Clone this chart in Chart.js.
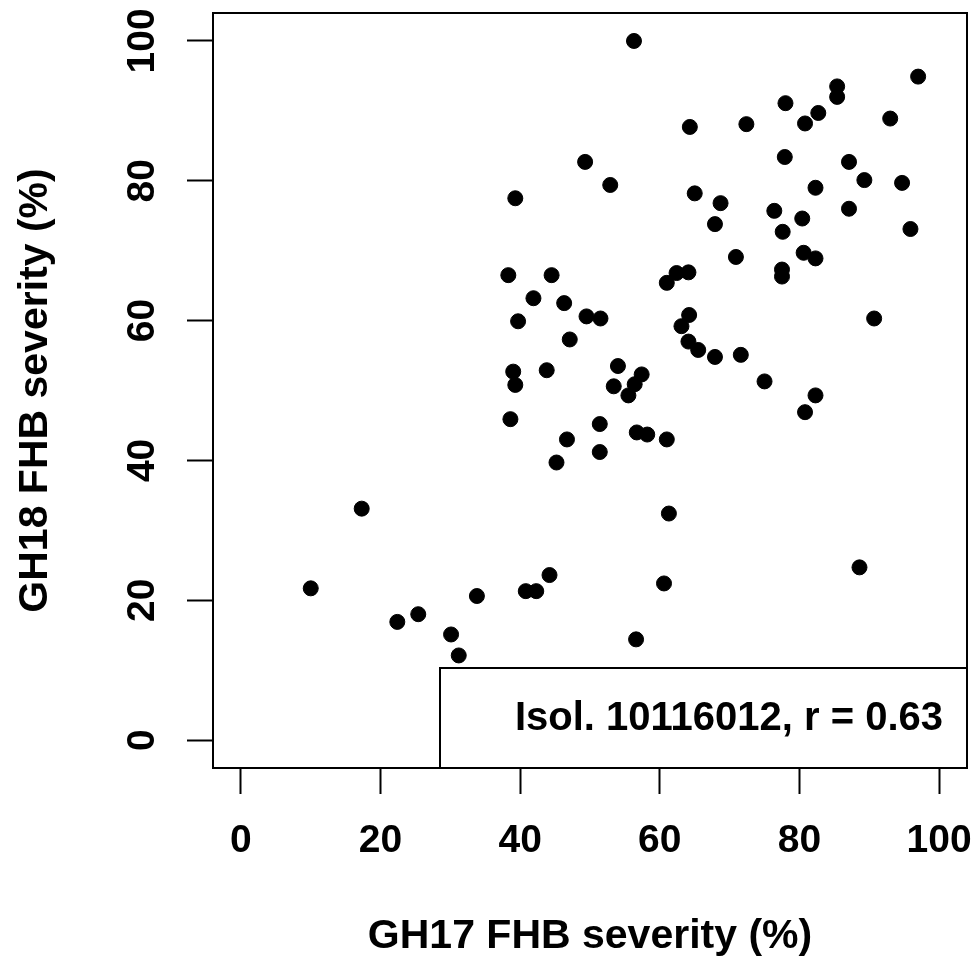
<!DOCTYPE html>
<html>
<head>
<meta charset="utf-8">
<script src="https://cdn.jsdelivr.net/npm/chart.js@4.4.1/dist/chart.umd.min.js"></script>
<style>
  html, body { margin: 0; padding: 0; background: #fff; }
  canvas { display: block; }
</style>
</head>
<body>
<canvas id="c" width="976" height="963" style="width:976px;height:963px"></canvas>
<script>
// GH17 FHB severity (%) per isolate line
const gh17 = [
  49.3, 39.3, 38.3, 44.5, 41.9, 46.3, 49.5, 39.7, 47.1, 39.0,
  43.8, 39.3, 56.3, 97.0, 85.4, 85.4, 78.0, 82.7, 80.8, 64.3,
  72.4, 93.0, 77.9, 52.9, 87.1, 89.3, 94.7, 82.3, 65.0, 68.7,
  76.4, 80.4, 67.9, 77.6, 87.1, 95.9, 70.9, 80.6, 82.3, 77.5,
  77.5, 61.0, 62.4, 64.1, 90.7, 51.5, 64.2, 63.1, 64.1, 65.5,
  67.9, 71.6, 75.0, 82.3, 80.8, 51.4, 51.4, 56.7, 58.2, 61.0,
  61.3, 88.6, 60.6, 56.6, 38.6, 46.7, 45.2, 17.3, 10.0, 22.4,
  25.4, 33.8, 40.8, 42.3, 44.2, 30.1, 31.2, 54.0, 57.4, 53.4,
  55.5, 56.4
];
// GH18 FHB severity (%) for the same lines
const gh18 = [
  82.7, 77.5, 66.5, 66.5, 63.2, 62.5, 60.6, 59.9, 57.3, 52.7,
  52.9, 50.8, 100.0, 94.9, 93.5, 92.0, 91.1, 89.7, 88.2, 87.7,
  88.1, 88.9, 83.4, 79.4, 82.7, 80.1, 79.7, 79.0, 78.2, 76.8,
  75.7, 74.6, 73.8, 72.7, 76.0, 73.1, 69.1, 69.7, 68.9, 67.3,
  66.3, 65.4, 66.8, 66.9, 60.3, 60.3, 60.8, 59.2, 57.0, 55.8,
  54.8, 55.1, 51.3, 49.3, 46.9, 45.2, 41.2, 44.0, 43.7, 43.0,
  32.4, 24.7, 22.4, 14.4, 45.9, 43.0, 39.7, 33.1, 21.7, 16.9,
  18.0, 20.6, 21.3, 21.3, 23.6, 15.1, 12.1, 53.5, 52.3, 50.6,
  49.3, 50.9
];
const xTicks = [0, 20, 40, 60, 80, 100];
const yTicks = [0, 20, 40, 60, 80, 100];
const xTitle = 'GH17 FHB severity (%)';
const yTitle = 'GH18 FHB severity (%)';
const legendText = 'Isol. 10116012, r = 0.63';

const FAMILY = '"Liberation Sans", Arial, Helvetica, sans-serif';

const points = gh17.map((x, i) => ({ x: x, y: gh18[i] }));

const framePlugin = {
  id: 'frame',
  afterDatasetsDraw(chart) {
    const { ctx, chartArea: a } = chart;
    ctx.save();
    // legend box (bottom right)
    const w = 527, h = 100;
    const lx = a.right - w, ly = a.bottom - h;
    ctx.fillStyle = '#fff';
    ctx.fillRect(lx, ly, w, h);
    ctx.strokeStyle = '#000';
    ctx.lineWidth = 2;
    ctx.strokeRect(lx, ly, w, h);
    ctx.fillStyle = '#000';
    ctx.font = 'bold 40px ' + FAMILY;
    ctx.textAlign = 'right';
    ctx.textBaseline = 'middle';
    ctx.fillText(legendText, a.right - 24, ly + h / 2 + 1);
    // plot box
    ctx.strokeRect(a.left, a.top, a.right - a.left, a.bottom - a.top);
    ctx.restore();
  }
};

new Chart(document.getElementById('c'), {
  type: 'scatter',
  data: {
    datasets: [{
      data: points,
      backgroundColor: '#000',
      borderColor: '#000',
      borderWidth: 1,
      pointRadius: 7.5,
      pointStyle: 'circle'
    }]
  },
  options: {
    responsive: false,
    animation: false,
    layout: { padding: { top: 13, right: 9, left: 0, bottom: 0 } },
    plugins: { legend: { display: false }, tooltip: { enabled: false } },
    scales: {
      x: {
        type: 'linear', position: 'bottom', min: -4, max: 104,
        afterBuildTicks: s => { s.ticks = xTicks.map(v => ({ value: v })); },
        afterFit: s => { s.height = 195; s.paddingLeft = 0; s.paddingRight = 0; },
        grid: { drawOnChartArea: false, drawTicks: true, tickLength: 26, tickWidth: 2, tickColor: '#000', color: '#000' },
        border: { display: false },
        ticks: { color: '#000', font: { family: FAMILY, size: 39, weight: 'bold' }, padding: 24, maxRotation: 0, minRotation: 0, autoSkip: false },
        title: { display: true, text: xTitle, color: '#000', font: { family: FAMILY, size: 41, weight: 'bold' }, padding: { top: 0, bottom: 2 } }
      },
      y: {
        type: 'linear', position: 'left', min: -4, max: 104,
        afterBuildTicks: s => { s.ticks = yTicks.map(v => ({ value: v })); },
        afterFit: s => { s.width = 213; s.paddingTop = 0; s.paddingBottom = 0; },
        grid: { drawOnChartArea: false, drawTicks: true, tickLength: 26, tickWidth: 2, tickColor: '#000', color: '#000' },
        border: { display: false },
        ticks: { color: '#000', font: { family: FAMILY, size: 39, weight: 'bold' }, padding: 11, minRotation: 90, maxRotation: 90, crossAlign: 'center', autoSkip: false },
        title: { display: true, text: yTitle, color: '#000', font: { family: FAMILY, size: 41, weight: 'bold' }, padding: { top: 11, bottom: 0 } }
      }
    }
  },
  plugins: [framePlugin]
});
</script>
</body>
</html>
